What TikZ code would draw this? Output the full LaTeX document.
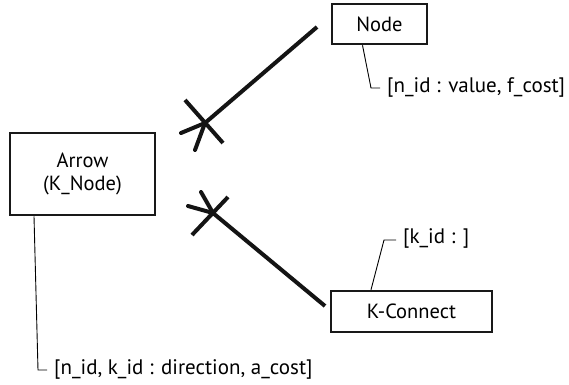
\documentclass[tikz,border=0pt]{standalone}
\usepackage{fontspec}
\setmainfont{PT Sans}
\begin{document}
\begin{tikzpicture}[x=1pt,y=-1pt,
  box/.style={draw=black!90, line width=2.5pt, inner sep=0pt, align=center, font=\fontsize{20.5}{23}\selectfont},
  lbl/.style={anchor=west, inner sep=0pt, font=\fontsize{21}{23}\selectfont},
  rel/.style={line width=4pt, draw=black!92},
  prong/.style={line width=4pt, draw=black!92, line cap=round},
  call/.style={line width=0.9pt}]
\useasboundingbox (0,0) rectangle (569,384);
% boxes
\node[box, minimum width=95pt, minimum height=40pt] (node) at (379.5,24) {Node};
\node[box, minimum width=145pt, minimum height=82pt] (arrow) at (82.5,174) {Arrow\\(K\_Node)};
\node[box, minimum width=161pt, minimum height=41pt] (kc) at (411.5,311.5) {K-Connect};
% labels
\node[lbl] (nl) at (387,87) {[n\_id : value, f\_cost]};
\node[lbl] (kl) at (403,238) {[k\_id : ]};
\node[lbl] (al) at (54,369) {[n\_id, k\_id : direction, a\_cost]};
% callouts
\coordinate (nc) at (371,88);
\coordinate (kcc) at (384,240);
\coordinate (ac) at (38,370);
\draw[call] (node.south -| 362.5,0) -- (nc) -- ([xshift=-7pt]nl.west |- nc);
\draw[call] (kc.north -| 371,0) -- (kcc) -- ([xshift=-7pt]kl.west |- kcc);
\draw[call] (arrow.south -| 34,0) -- (ac) -- ([xshift=-7pt]al.west |- ac);
% relationship Node -- Arrow
\coordinate (n1) at (317,27);
\coordinate (j1) at (205,123);
\draw[rel] (n1) -- (j1);
\draw[rel] (185,100) -- (223,143);
\draw[prong] (j1) -- (181,133);
\draw[prong] (j1) -- (195,150);
% relationship K-Connect -- Arrow
\coordinate (k1) at (325,306);
\coordinate (j2) at (213,213);
\draw[rel] (k1) -- (j2);
\draw[rel] (228,197) -- (192,235);
\draw[prong] (j2) -- (188,206);
\draw[prong] (j2) -- (201,192);
\end{tikzpicture}
\end{document}
